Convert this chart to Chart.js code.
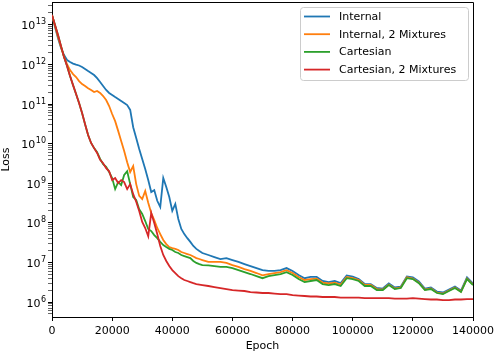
<!DOCTYPE html>
<html>
<head>
<meta charset="utf-8">
<script src="https://cdn.jsdelivr.net/npm/chart.js@4.4.1/dist/chart.umd.min.js"></script>
<style>
  html, body { margin: 0; padding: 0; background: #fff; }
  #wrap { width: 498px; height: 354px; }
</style>
</head>
<body>
<div id="wrap"><canvas id="lossChart" width="498" height="354"></canvas></div>
<script>
// epochs: every 1000 up to 50000, then every 2000
const epochs = [
  0, 1000, 2000, 3000, 4000, 5000, 6000, 7000, 8000, 9000,
  10000, 11000, 12000, 13000, 14000, 15000, 16000, 17000, 18000, 19000,
  20000, 21000, 22000, 23000, 24000, 25000, 26000, 27000, 28000, 29000,
  30000, 31000, 32000, 33000, 34000, 35000, 36000, 37000, 38000, 39000,
  40000, 41000, 42000, 43000, 44000, 45000, 46000, 47000, 48000, 49000,
  50000,
  52000, 54000, 56000, 58000, 60000, 62000, 64000, 66000, 68000, 70000,
  72000, 74000, 76000, 78000, 80000, 82000, 84000, 86000, 88000, 90000,
  92000, 94000, 96000, 98000, 100000, 102000, 104000, 106000, 108000, 110000,
  112000, 114000, 116000, 118000, 120000, 122000, 124000, 126000, 128000, 130000,
  132000, 134000, 136000, 138000, 140000
];

const internalLoss = [
  1.77e13, 8.8e12, 4.6e12, 2.6e12, 1.73e12, 1.29e12, 1.15e12, 1.05e12, 9.9e11, 9.4e11,
  8.6e11, 7.7e11, 6.8e11, 6.1e11, 5.4e11, 4.5e11, 3.6e11, 2.85e11, 2.26e11, 1.9e11,
  1.69e11, 1.5e11, 1.34e11, 1.19e11, 1.06e11, 9.4e10, 7.1e10, 2.6e10, 1.39e10, 7.3e9,
  4.1e9, 2.3e9, 1.2e9, 6.0e8, 6.7e8, 3.6e8, 2.5e8, 1.35e9, 8.0e8, 4.5e8,
  2.0e8, 3.0e8, 1.25e8, 7.0e7, 5.2e7, 4.1e7, 3.3e7, 2.6e7, 2.2e7, 1.94e7,
  1.73e7,
  1.54e7, 1.37e7, 1.22e7, 1.29e7, 1.15e7, 1.03e7, 9.1e6, 8.1e6, 7.2e6, 6.4e6,
  6.1e6, 6.1e6, 6.4e6, 7.2e6, 6.1e6, 4.8e6, 4.0e6, 4.3e6, 4.3e6, 3.4e6,
  3.2e6, 3.4e6, 3.0e6, 4.7e6, 4.4e6, 3.8e6, 2.85e6, 2.85e6, 2.26e6, 2.19e6,
  2.94e6, 2.33e6, 2.46e6, 4.4e6, 4.2e6, 3.3e6, 2.19e6, 2.33e6, 1.84e6, 1.74e6,
  2.07e6, 2.46e6, 1.95e6, 4.2e6, 2.94e6
];

const internalMixLoss = [
  1.77e13, 9.3e12, 4.9e12, 2.75e12, 1.54e12, 1.02e12, 7.2e11, 5.7e11, 4.8e11, 3.8e11,
  3.2e11, 2.85e11, 2.5e11, 2.26e11, 2.0e11, 2.13e11, 1.9e11, 1.59e11, 1.26e11, 8.9e10,
  5.6e10, 3.7e10, 2.1e10, 1.16e10, 6.5e9, 3.4e9, 1.92e9, 2.7e9, 9.5e8, 4.8e8,
  4.0e8, 6.4e8, 3.2e8, 1.77e8, 1.18e8, 7.4e7, 5.2e7, 3.7e7, 2.9e7, 2.45e7,
  2.3e7, 2.2e7, 2.06e7, 1.83e7, 1.73e7, 1.63e7, 1.54e7, 1.41e7, 1.29e7, 1.22e7,
  1.15e7,
  1.03e7, 1.03e7, 1.03e7, 9.7e6, 8.6e6, 7.7e6, 6.8e6, 6.1e6, 5.4e6, 4.7e6,
  5.1e6, 5.4e6, 5.7e6, 6.4e6, 5.4e6, 4.3e6, 3.6e6, 3.8e6, 3.9e6, 3.1e6,
  2.94e6, 3.1e6, 2.77e6, 4.3e6, 4.0e6, 3.6e6, 2.69e6, 2.69e6, 2.13e6, 2.07e6,
  2.77e6, 2.19e6, 2.33e6, 4.2e6, 3.9e6, 3.1e6, 2.07e6, 2.19e6, 1.74e6, 1.64e6,
  1.95e6, 2.33e6, 1.84e6, 3.9e6, 2.77e6
];

const cartesianLoss = [
  1.77e13, 9.9e12, 5.5e12, 2.9e12, 1.54e12, 9.1e11, 5.1e11, 3.0e11, 1.79e11, 1.06e11,
  5.9e10, 3.1e10, 1.65e10, 1.04e10, 7.7e9, 6.1e9, 4.1e9, 3.05e9, 2.6e9, 1.92e9,
  1.35e9, 7.1e8, 1.07e9, 9.0e8, 1.61e9, 2.0e9, 9.5e8, 4.5e8, 3.8e8, 2.2e8,
  1.67e8, 1.11e8, 7.0e7, 6.2e7, 4.9e7, 4.1e7, 3.3e7, 2.75e7, 2.45e7, 2.2e7,
  2.06e7, 1.83e7, 1.73e7, 1.54e7, 1.45e7, 1.37e7, 1.29e7, 1.09e7, 9.7e6, 9.1e6,
  8.6e6,
  8.4e6, 8.1e6, 7.7e6, 7.7e6, 7.2e6, 6.4e6, 5.7e6, 5.1e6, 4.5e6, 4.0e6,
  4.5e6, 4.8e6, 5.1e6, 5.7e6, 4.8e6, 3.8e6, 3.2e6, 3.4e6, 3.6e6, 2.85e6,
  2.69e6, 2.85e6, 2.54e6, 4.0e6, 3.8e6, 3.4e6, 2.54e6, 2.54e6, 2.01e6, 2.01e6,
  2.69e6, 2.13e6, 2.26e6, 4.0e6, 3.8e6, 3.0e6, 2.01e6, 2.13e6, 1.69e6, 1.59e6,
  1.9e6, 2.26e6, 1.79e6, 3.8e6, 2.69e6
];

const cartesianMixLoss = [
  1.77e13, 9.9e12, 5.5e12, 2.9e12, 1.54e12, 9.1e11, 5.1e11, 3.0e11, 1.79e11, 1.06e11,
  5.9e10, 3.1e10, 1.65e10, 1.04e10, 7.7e9, 5.8e9, 3.9e9, 3.2e9, 2.4e9, 2.0e9,
  1.2e9, 1.35e9, 1.01e9, 1.2e9, 1.07e9, 7.1e8, 9.5e8, 5.3e8, 3.4e8, 2.0e8,
  1.05e8, 7.4e7, 4.6e7, 1.77e8, 9.9e7, 5.2e7, 2.6e7, 1.54e7, 1.09e7, 8.1e6,
  6.4e6, 5.4e6, 4.5e6, 4.0e6, 3.6e6, 3.4e6, 3.2e6, 3.0e6, 2.85e6, 2.77e6,
  2.69e6,
  2.54e6, 2.39e6, 2.26e6, 2.13e6, 2.01e6, 1.95e6, 1.9e6, 1.79e6, 1.74e6, 1.69e6,
  1.69e6, 1.64e6, 1.59e6, 1.59e6, 1.5e6, 1.46e6, 1.42e6, 1.38e6, 1.38e6, 1.34e6,
  1.34e6, 1.34e6, 1.3e6, 1.3e6, 1.3e6, 1.3e6, 1.26e6, 1.26e6, 1.26e6, 1.26e6,
  1.26e6, 1.22e6, 1.22e6, 1.22e6, 1.26e6, 1.22e6, 1.19e6, 1.16e6, 1.16e6, 1.12e6,
  1.12e6, 1.16e6, 1.16e6, 1.19e6, 1.19e6
];

const seriesLabels = ['Internal', 'Internal, 2 Mixtures', 'Cartesian', 'Cartesian, 2 Mixtures'];
const seriesColors = ['#1f77b4', '#ff7f0e', '#2ca02c', '#d62728'];
const seriesValues = [internalLoss, internalMixLoss, cartesianLoss, cartesianMixLoss];
const xTicks = [0, 20000, 40000, 60000, 80000, 100000, 120000, 140000];
const yExponents = [6, 7, 8, 9, 10, 11, 12, 13];

const FONT = 'DejaVu Sans';
Chart.defaults.font.family = FONT;
Chart.defaults.font.size = 11;
Chart.defaults.color = '#000';

// frame on top/right, 10^n tick labels with real superscripts, legend box
const frameAndLegend = {
  id: 'frameAndLegend',
  afterDraw(chart) {
    const { ctx, chartArea: a } = chart;
    const yScale = chart.scales.y;
    ctx.save();
    ctx.strokeStyle = '#000';
    ctx.lineWidth = 1;
    ctx.beginPath();
    ctx.moveTo(Math.round(a.left), Math.round(a.top) + 0.5);
    ctx.lineTo(Math.round(a.right) + 0.5, Math.round(a.top) + 0.5);
    ctx.lineTo(Math.round(a.right) + 0.5, Math.round(a.bottom));
    ctx.stroke();

    // y tick labels: "10" + raised exponent
    ctx.fillStyle = '#000';
    ctx.textAlign = 'right';
    ctx.textBaseline = 'alphabetic';
    const right = a.left - 6;
    yExponents.forEach(e => {
      const y = yScale.getPixelForValue(Math.pow(10, e));
      ctx.font = '8px "' + FONT + '"';
      const ew = ctx.measureText(String(e)).width;
      ctx.fillText(String(e), right, y - 0.5);
      ctx.font = '11px "' + FONT + '"';
      ctx.fillText('10', right - ew - 0.5, y + 4.5);
    });

    const bx = 300.5, by = 7.5, bw = 168, bh = 73;
    ctx.fillStyle = 'rgba(255,255,255,0.8)';
    ctx.strokeStyle = '#cccccc';
    ctx.beginPath();
    ctx.roundRect(bx, by, bw, bh, 3);
    ctx.fill();
    ctx.stroke();

    ctx.font = '11px "' + FONT + '"';
    ctx.textAlign = 'left';
    ctx.textBaseline = 'middle';
    seriesLabels.forEach((lab, i) => {
      const y = 16.5 + i * 17.7;
      ctx.strokeStyle = seriesColors[i];
      ctx.lineWidth = 1.8;
      ctx.beginPath();
      ctx.moveTo(304, y);
      ctx.lineTo(330, y);
      ctx.stroke();
      ctx.fillStyle = '#000';
      ctx.fillText(lab, 339, y + 0.5);
    });
    ctx.restore();
  }
};

const datasets = seriesLabels.map((label, i) => ({
  label: label,
  data: epochs.map((e, j) => ({ x: e, y: seriesValues[i][j] })),
  borderColor: seriesColors[i],
  borderWidth: 1.8,
  pointRadius: 0,
  tension: 0,
  fill: false,
  order: 4 - i
}));

new Chart(document.getElementById('lossChart'), {
  type: 'line',
  data: { datasets: datasets },
  plugins: [frameAndLegend],
  options: {
    responsive: false,
    animation: false,
    devicePixelRatio: 1,
    layout: { padding: { left: 0, right: 23, top: 2, bottom: 0 } },
    plugins: { legend: { display: false }, tooltip: { enabled: false } },
    scales: {
      x: {
        type: 'linear',
        min: 0,
        max: 140000,
        afterBuildTicks: (s) => { s.ticks = xTicks.map(v => ({ value: v })); },
        afterFit: (s) => { s.height = 37; },
        grid: { drawOnChartArea: false, drawTicks: true, tickLength: 4, tickColor: '#000' },
        border: { display: true, color: '#000', width: 1 },
        ticks: { padding: 4, maxRotation: 0, autoSkip: false, callback: v => String(v) },
        title: { display: true, text: 'Epoch', padding: { top: 0, bottom: 1 } }
      },
      y: {
        type: 'logarithmic',
        min: 4.19e5,
        max: 3.77e13,
        afterBuildTicks: (s) => {
          const t = [];
          for (let e = 5; e <= 13; e++) {
            for (let m = 1; m <= 9; m++) {
              const v = m * Math.pow(10, e);
              if (v >= s.min && v <= s.max) t.push({ value: v, major: m === 1 });
            }
          }
          s.ticks = t;
        },
        afterFit: (s) => { s.width = 52; },
        grid: {
          drawOnChartArea: false, drawTicks: true, tickLength: 4, tickColor: '#000',
          tickWidth: (c) => (c.tick && c.tick.major ? 1 : 0.6)
        },
        border: { display: true, color: '#000', width: 1 },
        ticks: { display: false },
        title: { display: true, text: 'Loss', padding: { top: 0, bottom: 0 } }
      }
    }
  }
});
</script>
</body>
</html>
